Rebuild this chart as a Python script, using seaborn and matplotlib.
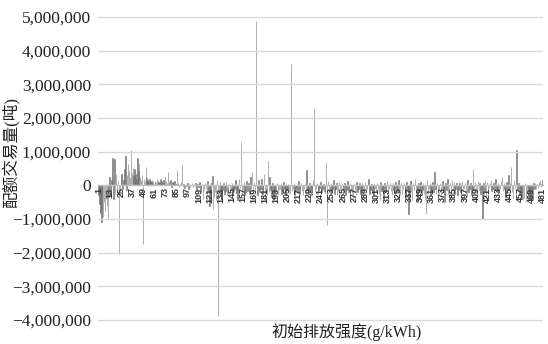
import numpy as np
import pandas as pd
import matplotlib
matplotlib.use('Agg')
import matplotlib.pyplot as plt
import seaborn as sns
from matplotlib.ticker import FuncFormatter

# initial emission intensity classes 1..481
intensity = list(range(1, 482))

# quota trade volume per class, thousand tonnes
trade_k = [
    -300, -550, -820, -1080, -700, -950, -480, -760, -400, -600, -980, -350,
    250, -280, 150, 820, -420, 780, -250, 330, -180, 120, -2050, -300,
    200, 350, -120, 150, 480, 870, -150, 300, 620, 420, 250, 1050,
    380, 520, 280, 500, 350, 200, 800, 420, 660, 250, 150, 300,
    -1750, 180, 120, 550, 220, 150, 100, 180, 130, 90, 160, 120,
    80, 140, 100, 200, 150, 90, 60, 200, 120, 80, 150, 100,
    250, 130, 80, 400, 120, 60, 150, -50, 100, 70, 120, 30,
    40, 450, 80, -60, 30, 100, 600, -40, 50, -80, 20, -30,
    60, -120, 30, -50, 20, 80, -90, 40, -30, 60, -150, 30,
    -60, 100, -200, -80, 50, -420, -150, 80, -100, -250, 120, -180,
    -600, -300, 80, 270, -700, -350, -200, -450, 150, -3870, -250, 120,
    -300, -400, -150, 60, -250, -180, 100, -300, -120, 50, -200, -150,
    80, -300, -180, -100, 150, -220, -450, -120, 200, -80, 1300, -250,
    -150, 100, -300, -200, 120, -180, 60, -250, 250, -100, 400, -150,
    100, -200, 4880, -120, -300, 150, -200, -100, 200, -250, -150, 350,
    -420, -180, -300, 720, -200, 250, -150, -350, 60, -400, -250, -120,
    -200, 80, -300, -150, -100, 60, -250, -180, 100, -120, -300, -80,
    -150, 50, -200, -250, 3600, -180, -100, 80, -300, -150, -60, -200,
    120, -250, -120, 60, -180, -300, -100, 50, -200, 450, -150, -250,
    80, -120, -300, -200, 150, 2280, -180, -100, 60, -250, -150, -80,
    100, -200, -120, 50, -180, -250, 700, -1170, 120, -150, -300, 80,
    -200, -100, 150, -250, -120, 60, -300, -180, 100, -150, -200, 50,
    -250, -120, 80, -300, -150, 120, -200, -100, 60, -180, -250, -400,
    50, -150, -300, 100, -200, -120, 80, -250, -180, 60, -350, -150,
    100, -200, -120, 80, 200, -250, -150, 50, -180, -300, 60, -120,
    -200, 80, -150, -250, -450, 100, -180, -120, -400, 60, -200, -150,
    120, -250, -100, 60, -180, -300, 80, -150, -220, 100, -120, -200,
    150, -180, -300, 80, -250, -120, 60, -200, -350, 100, -150, -850,
    -300, 120, -200, -450, 80, -150, 200, -250, -120, -500, 60, -180,
    100, -300, -150, 80, -250, -400, -840, 150, -200, -120, 60, -300,
    -150, 100, -200, 400, -120, -250, 80, -180, -100, 60, -300, -150,
    120, -200, -500, 80, -150, 200, -250, -120, 60, -350, 150, -180,
    100, -250, -120, 80, -300, -150, 60, -200, -450, 120, -180, -100,
    80, -250, -350, 150, -200, -120, 60, -300, -150, 480, -180, 100,
    -200, -300, 120, -150, 80, -250, -120, -1000, 60, -180, 150, -350,
    100, -200, -120, 80, 150, -180, -100, 60, -150, 200, -120, -200,
    80, -150, -100, 120, 250, -180, 60, -120, -350, 100, -150, 300,
    -120, 80, 540, -200, -380, 150, -100, 60, 1050, -150, 80, -250,
    -300, -420, -150, -450, -380, 60, -500, -250, -420, -300, -150, -400,
    -200, -450, 80, -120, 60, -100, 50, -80, 100, 150, -60, 40,
    150,
]

tick_labels = [str(i) for i in range(1, 482, 12)]
y_ticks = [v * 1_000_000 for v in range(-4, 6)]

df = pd.DataFrame({'intensity': intensity, 'trade': np.array(trade_k) * 1000})

sns.set_theme(style='white')
plt.rcParams['font.family'] = ['Liberation Serif', 'Noto Sans CJK SC']

fig = plt.figure(figsize=(5.48, 3.44), dpi=100)
ax = fig.add_axes([0.179, 0.0648, 0.812, 0.8907])

# thin edge keeps sub-pixel bars from vanishing
sns.barplot(data=df, x='intensity', y='trade', order=intensity, color='#727272',
            saturation=1, width=0.5, linewidth=0.4, edgecolor='#727272', ax=ax)

ax.set_xlim(-0.5, len(intensity) - 0.5)
ax.set_ylim(-4.05e6, 5.05e6)

# gridlines (axis drawn above bars so the tick labels stay readable)
ax.set_yticks(y_ticks)
ax.yaxis.grid(True, color='#d9d9d9', linewidth=1)
ax.set_axisbelow('line')

for side in ['top', 'right', 'left']:
    ax.spines[side].set_visible(False)
ax.spines['bottom'].set_position(('data', 0))
ax.spines['bottom'].set_color('#bfbfbf')
ax.spines['bottom'].set_linewidth(0.8)

ax.yaxis.set_major_formatter(FuncFormatter(lambda v, p: f"{v:,.0f}".replace('-', '\u2212')))
ax.tick_params(axis='y', length=0, pad=5, labelsize=12.5, colors='#222222')

ax.set_xticks(range(0, len(intensity), 12))
ax.set_xticklabels(tick_labels, rotation=90, fontsize=6.5, fontweight='bold',
                   family='Liberation Sans', color='#333333')
ax.tick_params(axis='x', length=0, pad=1.5)
ax.set_xlabel('')
ax.set_ylabel('')

fig.text(0.02, 0.558, '配额交易量(吨)', rotation=90, ha='center', va='center',
         fontsize=12, color='#222222')
fig.text(0.632, 0.035, '初始排放强度(g/kWh)', ha='center', va='center',
         fontsize=11.5, color='#222222')

fig.savefig('out.png', dpi=100)
